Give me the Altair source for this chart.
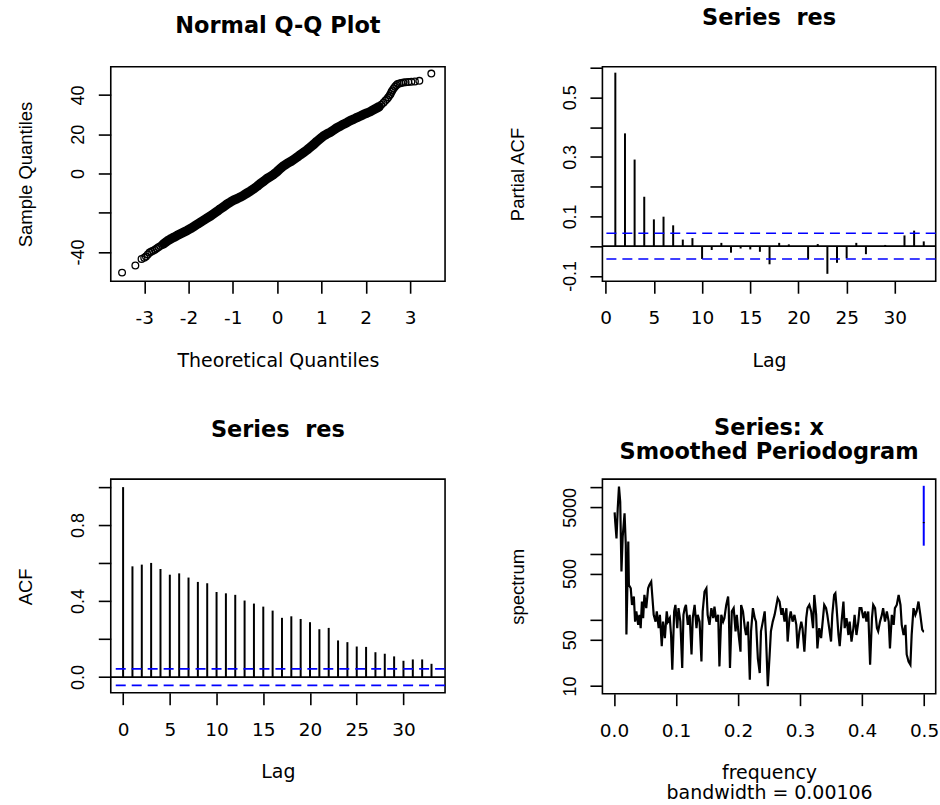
import altair as alt
import pandas as pd

# ---------------- data ----------------
qq_theoretical = [
    -3.50, -3.20, -3.06, -3.00, -2.96, -2.92, -2.88, -2.84, -2.80, -2.76, -2.72, -2.68, -2.64, -2.60,
    -2.56, -2.50, -2.45, -2.39, -2.33, -2.26, -2.18, -2.10, -2.03, -1.95, -1.88, -1.80, -1.73, -1.65,
    -1.58, -1.50, -1.43, -1.35, -1.28, -1.20, -1.13, -1.05, -0.98, -0.90, -0.83, -0.75, -0.68, -0.60,
    -0.53, -0.45, -0.38, -0.30, -0.23, -0.15, -0.08, 0.00, 0.07, 0.15, 0.22, 0.30, 0.38, 0.45, 0.52,
    0.60, 0.68, 0.75, 0.83, 0.90, 0.98, 1.05, 1.12, 1.20, 1.28, 1.35, 1.43, 1.50, 1.58, 1.65, 1.73,
    1.80, 1.88, 1.95, 2.03, 2.11, 2.18, 2.26,
    2.30, 2.35, 2.40, 2.44, 2.48, 2.51, 2.54, 2.56, 2.58, 2.60, 2.63, 2.66, 2.69, 2.72, 2.76, 2.80,
    2.85, 2.90, 2.96, 3.03, 3.11, 3.21, 3.48,
]
qq_sample = [
    -50.5, -46.9, -43.5, -42.9, -42.3, -41.3, -40.3, -39.8, -39.3, -38.8, -38.2, -37.6, -37.0, -36.4,
    -35.8, -34.8, -34.0, -33.2, -32.5, -31.6, -30.7, -29.8, -29.0, -28.0, -27.0, -25.8, -24.8, -23.7,
    -22.7, -21.6, -20.5, -19.2, -18.0, -16.8, -15.6, -14.5, -13.6, -12.8, -12.0, -11.0, -10.0, -8.9,
    -7.8, -6.5, -5.2, -3.9, -2.6, -1.5, -0.5, 1.0, 2.5, 4.0, 5.0, 6.0, 7.2, 8.3, 9.5,
    10.8, 12.1, 13.4, 14.9, 16.4, 17.9, 19.2, 20.1, 21.0, 22.2, 23.3, 24.2, 25.1, 26.0, 26.9, 27.7,
    28.5, 29.3, 30.1, 30.8, 31.6, 32.5, 33.5,
    34.0, 35.0, 36.0, 37.0, 37.9, 38.8, 39.8, 40.5, 41.5, 42.3, 43.3, 44.2, 45.0, 45.6, 45.9, 46.1,
    46.3, 46.5, 46.6, 46.7, 46.9, 47.2, 50.9,
]

pacf_lags = list(range(1, 34))
pacf_values = [0.583, 0.379, 0.291, 0.166, 0.090, 0.099, 0.070, 0.022, 0.027, -0.043, -0.013,
               0.011, -0.022, -0.008, -0.011, -0.019, -0.061, 0.011, 0.006, -0.002, -0.045,
               0.007, -0.093, -0.056, -0.041, 0.011, -0.027, -0.002, 0.004, -0.001, 0.036,
               0.052, 0.016]

acf_lags = list(range(0, 34))
acf_values = [1.0, 0.583, 0.592, 0.601, 0.569, 0.539, 0.546, 0.524, 0.501, 0.494, 0.448, 0.441,
              0.433, 0.403, 0.387, 0.371, 0.350, 0.312, 0.320, 0.306, 0.289, 0.252, 0.259, 0.193,
              0.184, 0.161, 0.159, 0.131, 0.123, 0.109, 0.086, 0.093, 0.093, 0.070]

conf_limit = 0.0433

spec_freq = [
    0.001, 0.002, 0.004, 0.006, 0.008, 0.010, 0.012, 0.014, 0.017, 0.019, 0.020, 0.023, 0.024,
    0.027, 0.029, 0.032, 0.034, 0.036, 0.039, 0.041, 0.043, 0.045, 0.047, 0.049, 0.052, 0.055,
    0.057, 0.060, 0.062, 0.064, 0.067, 0.069, 0.072, 0.074, 0.077, 0.079, 0.082, 0.085, 0.087,
    0.090, 0.092, 0.094, 0.097, 0.099, 0.102, 0.104, 0.107, 0.110, 0.112, 0.114, 0.116, 0.119,
    0.122, 0.125, 0.127, 0.130, 0.133, 0.135, 0.138, 0.141, 0.143, 0.146, 0.149, 0.151,
    0.154, 0.157, 0.160, 0.162, 0.165, 0.168, 0.170, 0.173, 0.176, 0.178, 0.181, 0.184, 0.185,
    0.187, 0.190, 0.193, 0.196, 0.198, 0.201, 0.204, 0.205, 0.208, 0.211, 0.213, 0.216, 0.219,
    0.221, 0.224, 0.227, 0.229, 0.232, 0.235, 0.237, 0.240, 0.243, 0.245, 0.248, 0.251, 0.253,
    0.256, 0.259, 0.261, 0.264, 0.267, 0.270, 0.272, 0.275, 0.278, 0.280, 0.283, 0.285, 0.288,
    0.291, 0.294, 0.296, 0.299, 0.302, 0.304, 0.307, 0.310, 0.312, 0.315, 0.318, 0.321,
    0.323, 0.326, 0.328, 0.331, 0.334, 0.336, 0.339, 0.342, 0.344, 0.347, 0.350, 0.352, 0.355,
    0.357, 0.359, 0.362, 0.364, 0.367, 0.370, 0.372, 0.375, 0.378, 0.380, 0.383, 0.386, 0.388,
    0.391, 0.394, 0.396, 0.399, 0.402, 0.405, 0.407, 0.410, 0.413, 0.416, 0.418, 0.421, 0.424,
    0.426, 0.429, 0.432, 0.434, 0.437, 0.440, 0.443, 0.445, 0.448, 0.451, 0.453, 0.456, 0.459,
    0.462, 0.464, 0.467, 0.470, 0.472, 0.475, 0.478, 0.480, 0.483, 0.486, 0.488, 0.491, 0.494,
    0.497, 0.499, 0.500,
]
spec_values = [
    4200, 3000, 1700, 4800, 10300, 6100, 540, 1800, 4060, 1350, 60, 1520, 337,
    300, 168, 225, 94, 134, 84, 119, 75, 189, 106, 238, 150, 300,
    337, 378, 212, 119, 94, 134, 75, 119, 40, 94, 53, 134, 94,
    106, 59, 17.6, 134, 168, 75, 150, 94, 18.7, 119, 150, 168, 84,
    119, 30, 106, 168, 75, 119, 94, 23.5, 134, 268, 300, 119,
    84, 150, 106, 159, 94, 119, 19.8, 119, 94, 106, 168, 225, 150,
    18.7, 134, 150, 67, 119, 59, 33, 168, 134, 75, 59, 94, 12.5,
    67, 150, 106, 94, 26, 15.7, 67, 94, 134, 59, 9.9, 30, 67,
    94, 119, 150, 212, 189, 119, 150, 94, 150, 47, 106, 134, 94,
    119, 84, 37, 67, 94, 75, 33, 106, 150, 168, 134, 75,
    238, 119, 37, 75, 53, 84, 168, 150, 119, 75, 47, 119, 238,
    252, 150, 59, 40, 94, 189, 75, 106, 59, 94, 47, 75, 119,
    59, 94, 150, 150, 106, 134, 94, 134, 21, 106, 168, 150, 75,
    67, 94, 119, 150, 94, 134, 94, 37, 119, 84, 150, 168, 238,
    168, 84, 59, 84, 30, 23.5, 21, 59, 150, 119, 134, 189, 119,
    71, 67, 67,
]
spec_ci_freq = [0.4995]
spec_ci_low = [1320]
spec_ci_high = [10600]
spec_ci_mid = [2950]
spec_tick_from = [0.4980]
spec_tick_to = [0.5010]

# ---------------- styling helpers ----------------
BLACK = "black"
BLUE = "#0000ff"
HFONT = "DejaVu Sans"
VFONT = "Liberation Sans"
W_L, W_R, H = 335, 334, 215


def x_axis(values, title, label_expr):
    return alt.Axis(values=values, title=title, labelExpr=label_expr, tickSize=12, tickWidth=1.6,
                    tickColor=BLACK, domain=False, grid=False, labelFont=HFONT, labelFontSize=18.5,
                    labelColor=BLACK, labelPadding=30.5, labelBaseline="alphabetic",
                    labelAlign="center", labelFlush=False, labelOverlap=False, titleFont=HFONT,
                    titleFontSize=19, titleFontWeight="normal", titleColor=BLACK, titleY=85,
                    titleBaseline="alphabetic", titleLineHeight=20)


def y_axis(values, title, label_expr):
    return alt.Axis(values=values, title=title, labelExpr=label_expr, tickSize=12.5, tickWidth=1.6,
                    tickColor=BLACK, domain=False, grid=False, labelFont=VFONT, labelFontSize=18,
                    labelColor=BLACK, labelAngle=270, labelAlign="center",
                    labelBaseline="alphabetic", labelPadding=14.5, labelFlush=False,
                    labelOverlap=False, titleFont=VFONT, titleFontSize=18.5,
                    titleFontWeight="normal", titleColor=BLACK, titleAngle=270,
                    titleAlign="center", titleBaseline="alphabetic", titleX=-79, titleY=H / 2)


def panel_title(text, offset):
    return alt.TitleParams(text=text, font=HFONT, fontSize=22.5, fontWeight="bold", color=BLACK,
                           anchor="middle", baseline="alphabetic", offset=offset, lineHeight=24)


# ---------------- panel 1: Normal Q-Q ----------------
qq_df = pd.DataFrame({"theoretical": qq_theoretical, "sample": qq_sample})
qx = alt.Scale(domain=[-3.755, 3.79], nice=False, zero=False)
qy = alt.Scale(domain=[-54.9, 54.4], nice=False, zero=False)
qq_xax = x_axis([-3, -2, -1, 0, 1, 2, 3], "Theoretical Quantiles", "toString(datum.value)")
qq_yax = y_axis([-40, -20, 0, 20, 40], "Sample Quantiles",
                "datum.value == -20 ? '' : toString(datum.value)")
qq_band = alt.Chart(qq_df).transform_filter(
    "datum.theoretical >= -2.58 && datum.theoretical <= 2.3"
).mark_line(color=BLACK, strokeWidth=9.5, strokeCap="round", strokeJoin="round").encode(
    x=alt.X("theoretical:Q", scale=qx, axis=qq_xax),
    y=alt.Y("sample:Q", scale=qy, axis=qq_yax),
)
qq_pts = alt.Chart(qq_df).mark_point(shape="circle", filled=False, color=BLACK, size=45,
                                     strokeWidth=1.3, opacity=1).encode(
    x=alt.X("theoretical:Q", scale=qx, axis=qq_xax),
    y=alt.Y("sample:Q", scale=qy, axis=qq_yax),
)
p1 = alt.layer(qq_band, qq_pts).properties(width=W_L, height=H,
                                            title=panel_title("Normal Q-Q Plot", 11))

# ---------------- panel 2: PACF ----------------
pacf_df = pd.DataFrame({"lag": pacf_lags, "value": pacf_values, "base": [0.0] * len(pacf_lags)})
px_ = alt.Scale(domain=[-0.34, 34.24], nice=False, zero=False)
py_ = alt.Scale(domain=[-0.118, 0.603], nice=False, zero=False)
pacf_xax = x_axis([0, 5, 10, 15, 20, 25, 30], "Lag", "toString(datum.value)")
pacf_yax = y_axis([-0.1, 0.0, 0.1, 0.2, 0.3, 0.4, 0.5, 0.6], "Partial ACF",
                  "indexof([-0.1, 0.1, 0.3, 0.5], datum.value) >= 0 ? toString(datum.value) : ''")
pacf_bars = alt.Chart(pacf_df).mark_rule(color=BLACK, strokeWidth=2).encode(
    x=alt.X("lag:Q", scale=px_, axis=pacf_xax),
    y=alt.Y("value:Q", scale=py_, axis=pacf_yax),
    y2="base:Q",
)
pacf_zero = alt.Chart(pd.DataFrame({"value": [0.0]})).mark_rule(color=BLACK, strokeWidth=1.6).encode(
    y=alt.Y("value:Q", scale=py_, axis=pacf_yax))
pacf_ci = alt.Chart(pd.DataFrame({"value": [conf_limit, -conf_limit]})).mark_rule(
    color=BLUE, strokeWidth=1.6, strokeDash=[10, 6]).encode(
    y=alt.Y("value:Q", scale=py_, axis=pacf_yax))
p2 = alt.layer(pacf_bars, pacf_zero, pacf_ci).properties(
    width=W_R, height=H, title=panel_title("Series\u00a0\u00a0res", 19.7))

# ---------------- panel 3: ACF ----------------
acf_df = pd.DataFrame({"lag": acf_lags, "value": acf_values, "base": [0.0] * len(acf_lags)})
ax_ = alt.Scale(domain=[-1.32, 34.45], nice=False, zero=False)
ay_ = alt.Scale(domain=[-0.082, 1.042], nice=False, zero=False)
acf_xax = x_axis([0, 5, 10, 15, 20, 25, 30], "Lag", "toString(datum.value)")
acf_yax = y_axis([0.0, 0.2, 0.4, 0.6, 0.8, 1.0], "ACF",
                 "indexof([0, 0.4, 0.8], datum.value) >= 0 ? format(datum.value, '.1f') : ''")
acf_bars = alt.Chart(acf_df).mark_rule(color=BLACK, strokeWidth=2).encode(
    x=alt.X("lag:Q", scale=ax_, axis=acf_xax),
    y=alt.Y("value:Q", scale=ay_, axis=acf_yax),
    y2="base:Q",
)
acf_zero = alt.Chart(pd.DataFrame({"value": [0.0]})).mark_rule(color=BLACK, strokeWidth=1.6).encode(
    y=alt.Y("value:Q", scale=ay_, axis=acf_yax))
acf_ci = alt.Chart(pd.DataFrame({"value": [conf_limit, -conf_limit]})).mark_rule(
    color=BLUE, strokeWidth=1.6, strokeDash=[10, 6]).encode(
    y=alt.Y("value:Q", scale=ay_, axis=acf_yax))
p3 = alt.layer(acf_bars, acf_zero, acf_ci).properties(
    width=W_L, height=H - 1, title=panel_title("Series\u00a0\u00a0res", 19.6))

# ---------------- panel 4: smoothed periodogram ----------------
spec_df = pd.DataFrame({"freq": spec_freq, "spectrum": spec_values})
sx = alt.Scale(domain=[-0.0187, 0.5188], nice=False, zero=False)
sy = alt.Scale(type="log", domain=[7.66, 13370], nice=False)
spec_xax = x_axis([0.0, 0.1, 0.2, 0.3, 0.4, 0.5], ["frequency", "bandwidth = 0.00106"],
                  "format(datum.value, '.1f')")
spec_yax = y_axis([10, 50, 100, 500, 1000, 5000, 10000], "spectrum",
                  "indexof([10, 50, 500, 5000], datum.value) >= 0 ? toString(datum.value) : ''")
spec_line = alt.Chart(spec_df).mark_line(color=BLACK, strokeWidth=2.2).encode(
    x=alt.X("freq:Q", scale=sx, axis=spec_xax),
    y=alt.Y("spectrum:Q", scale=sy, axis=spec_yax),
)
ci_df = pd.DataFrame({"freq": spec_ci_freq, "spectrum": spec_ci_low, "hi": spec_ci_high})
spec_ci = alt.Chart(ci_df).mark_rule(color=BLUE, strokeWidth=2).encode(
    x=alt.X("freq:Q", scale=sx, axis=spec_xax),
    y=alt.Y("spectrum:Q", scale=sy, axis=spec_yax),
    y2="hi:Q",
)
mid_df = pd.DataFrame({"freq": spec_tick_from, "f2": spec_tick_to, "spectrum": spec_ci_mid})
spec_mid = alt.Chart(mid_df).mark_rule(color=BLACK, strokeWidth=1.2).encode(
    x=alt.X("freq:Q", scale=sx, axis=spec_xax),
    x2="f2:Q",
    y=alt.Y("spectrum:Q", scale=sy, axis=spec_yax),
)
p4 = alt.layer(spec_line, spec_ci, spec_mid).properties(
    width=W_R, height=H, title=panel_title(["Series: x", "Smoothed Periodogram"], -2.3))

chart = alt.concat(
    p1, p2, p3, p4, columns=2, spacing={"row": 198.3, "column": 157.7}, bounds="flush"
).properties(
    padding={"left": 16, "top": 5, "right": 0, "bottom": 0}, background="white"
).configure_view(stroke=BLACK, strokeWidth=1.6, fill="white")

chart.save("out.html", embed_options={"renderer": "svg", "actions": False})
